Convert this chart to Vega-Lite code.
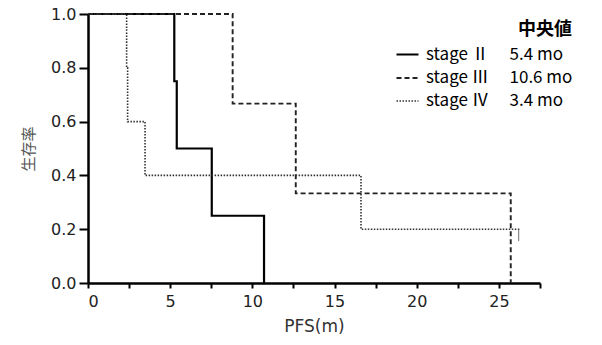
{
  "$schema": "https://vega.github.io/schema/vega-lite/v6.json",
  "width": 452,
  "height": 269,
  "autosize": "none",
  "padding": {"left": 88, "top": 14, "right": 62, "bottom": 62},
  "background": "white",
  "config": {
    "view": {"stroke": null}
  },
  "datasets": {
    "curves": [
      {"stage": "II", "t": 0, "s": 1},
      {"stage": "II", "t": 5.25, "s": 0.75},
      {"stage": "II", "t": 5.4, "s": 0.5},
      {"stage": "II", "t": 7.53, "s": 0.25},
      {"stage": "II", "t": 10.71, "s": 0},
      {"stage": "III", "t": 0, "s": 1},
      {"stage": "III", "t": 8.8, "s": 0.667},
      {"stage": "III", "t": 12.64, "s": 0.333},
      {"stage": "III", "t": 25.72, "s": 0},
      {"stage": "IV", "t": 0, "s": 1},
      {"stage": "IV", "t": 2.35, "s": 0.8},
      {"stage": "IV", "t": 2.41, "s": 0.6},
      {"stage": "IV", "t": 3.47, "s": 0.4},
      {"stage": "IV", "t": 16.61, "s": 0.2},
      {"stage": "IV", "t": 26.3, "s": 0.2}
    ],
    "censor": [
      {"stage": "IV", "t": 26.2, "s": 0.2}
    ]
  },
  "layer": [
    {
      "data": {"name": "curves"},
      "mark": {"type": "line", "interpolate": "step-after"},
      "encoding": {
        "x": {
          "field": "t", "type": "quantitative",
          "scale": {"domain": [0, 27.5], "nice": false, "zero": false},
          "title": "PFS(m)",
          "axis": {
            "grid": false, "domain": true, "ticks": true,
            "domainColor": "#000000", "domainWidth": 2.5, "tickColor": "#000000", "tickWidth": 2,
            "values": [0, 2.5, 5, 7.5, 10, 12.5, 15, 17.5, 20, 22.5, 25, 27.5],
            "labelExpr": "datum.value % 5 == 0 ? format(datum.value, 'd') : ''",
            "tickSize": 5,
            "labelPadding": 5, "labelFont": "DejaVu Sans", "labelFontSize": 16, "labelColor": "#222222",
            "titleFont": "DejaVu Sans", "titleFontSize": 17, "titleFontWeight": "normal", "titleColor": "#333333", "titlePadding": 9
          }
        },
        "y": {
          "field": "s", "type": "quantitative",
          "scale": {"domain": [0, 1], "nice": false},
          "title": "生存率",
          "axis": {
            "grid": false, "domain": true, "ticks": true,
            "domainColor": "#000000", "domainWidth": 2.5, "tickColor": "#000000", "tickWidth": 2,
            "values": [0, 0.1, 0.2, 0.3, 0.4, 0.5, 0.6, 0.7, 0.8, 0.9, 1.0],
            "labelExpr": "round(datum.value * 10) % 2 == 0 ? format(datum.value, '.1f') : ''",
            "tickSize": 9,
            "labelPadding": 3, "labelFont": "DejaVu Sans", "labelFontSize": 16, "labelColor": "#222222",
            "titleFont": "Noto Sans CJK JP", "titleFontSize": 15, "titleFontWeight": "normal", "titleColor": "#555555", "titlePadding": 14
          }
        },
        "stroke": {
          "field": "stage", "type": "nominal",
          "scale": {"domain": ["II", "III", "IV"], "range": ["#000000", "#222222", "#333333"]},
          "legend": {
            "orient": "none", "legendX": 307, "legendY": 7, "padding": 0,
            "title": "中央値", "titleAnchor": "end", "titleFont": "Noto Sans CJK JP", "titleFontSize": 18, "titleFontWeight": "bold", "titleColor": "#000", "titlePadding": 3,
            "symbolType": "stroke", "symbolSize": 484,
            "labelFont": "Noto Sans CJK JP", "labelFontSize": 17, "labelColor": "#000", "labelOffset": 6, "rowPadding": 3, "labelLimit": 300,
            "labelExpr": "datum.label == 'II' ? 'stage Ⅱ\u2002\u2002 5.4 mo' : datum.label == 'III' ? 'stage Ⅲ\u2002\u2002 10.6 mo' : 'stage Ⅳ\u2002\u2002 3.4 mo'"
          }
        },
        "strokeDash": {
          "field": "stage", "type": "nominal",
          "scale": {"domain": ["II", "III", "IV"], "range": [[1, 0], [5, 3], [1.5, 1.5]]}
        },
        "strokeWidth": {
          "field": "stage", "type": "nominal",
          "scale": {"domain": ["II", "III", "IV"], "range": [2.2, 1.6, 1.8]}
        }
      }
    },
    {
      "data": {"name": "censor"},
      "mark": {"type": "tick", "orient": "vertical", "size": 12, "thickness": 1.2, "yOffset": 6, "color": "#555555"},
      "encoding": {
        "x": {"field": "t", "type": "quantitative"},
        "y": {"field": "s", "type": "quantitative"}
      }
    }
  ]
}
